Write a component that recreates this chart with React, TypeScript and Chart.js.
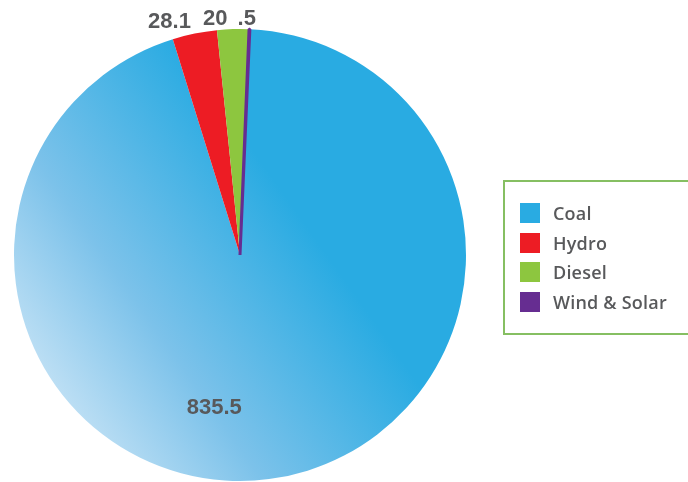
import React, { useEffect, useRef } from "react";
import { Chart, registerables } from "chart.js";

Chart.register(...registerables);

const categories = ["Coal", "Hydro", "Diesel", "Wind & Solar"];
const values = [835.5, 28.1, 20, 0.5];
const valueLabels = ["835.5", "28.1", "20", ".5"];
const colors = ["#29abe2", "#ed1c24", "#8dc63f", "#662d91"];

const labelPlugin = {
  id: "sliceLabels",
  afterDatasetsDraw(chart: any) {
    const meta = chart.getDatasetMeta(0);
    const c = chart.ctx;
    c.save();
    c.font = "bold 22px 'Liberation Sans', Arial, sans-serif";
    c.fillStyle = "#58595b";
    c.textAlign = "center";
    c.textBaseline = "middle";
    meta.data.forEach((arc: any, i: number) => {
      const { x, y, startAngle, endAngle, outerRadius } = arc.getProps(
        ["x", "y", "startAngle", "endAngle", "outerRadius"],
        true
      );
      let lx: number, ly: number;
      if (i === 0) {
        const a = startAngle + (endAngle - startAngle) * 0.55;
        const r = outerRadius * 0.68;
        lx = x + r * Math.cos(a);
        ly = y + r * Math.sin(a) + 1;
      } else {
        const r = outerRadius + 18;
        lx = x + r * Math.cos(startAngle) - (i === 3 ? 3 : i === 1 ? -2 : 0);
        ly = Math.max(y + r * Math.sin(startAngle), 19);
      }
      c.fillText(valueLabels[i], lx, ly);
    });
    c.restore();
  },
};

export default function App() {
  const ref = useRef<HTMLCanvasElement>(null);
  useEffect(() => {
    const canvas = ref.current!;
    const chart = new Chart(canvas, {
      type: "pie",
      data: {
        labels: categories,
        datasets: [
          {
            data: values,
            backgroundColor: (ctx: any) => {
              const i = ctx.dataIndex;
              if (i !== 0) return colors[i];
              const ch = ctx.chart;
              const area = ch.chartArea;
              if (!area) return colors[0];
              const cx = (area.left + area.right) / 2;
              const cy = (area.top + area.bottom) / 2;
              const r = 226;
              const g = ch.ctx.createLinearGradient(
                cx - r * 0.85,
                cy + r * 0.8,
                cx + r * 0.35,
                cy - r * 0.05
              );
              g.addColorStop(0, "#cfe7f7");
              g.addColorStop(0.45, "#7cc2ea");
              g.addColorStop(1, "#29abe2");
              return g;
            },
            borderWidth: [0, 0, 0, 3],
            borderColor: colors,
          } as any,
        ],
      },
      options: {
        responsive: false,
        animation: false,
        rotation: 2.5,
        radius: 226,
        layout: { padding: { left: 14, right: 222, top: 29, bottom: 1 } },
        plugins: {
          legend: { display: false },
          tooltip: { enabled: false },
        },
      } as any,
      plugins: [labelPlugin],
    });
    return () => chart.destroy();
  }, []);

  return (
    <div
      style={{
        position: "absolute",
        left: 0,
        top: 0,
        width: 688,
        height: 482,
        overflow: "hidden",
        background: "#fff",
      }}
    >
      <canvas ref={ref} width={688} height={482} style={{ display: "block" }} />
      <div
        style={{
          position: "absolute",
          left: 503,
          top: 180,
          width: 200,
          height: 155,
          border: "2px solid #86bf62",
          boxSizing: "border-box",
        }}
      >
        {categories.map((c, i) => (
          <div
            key={c}
            style={{
              position: "absolute",
              left: 15,
              top: 21 + i * 29.6,
              display: "flex",
              alignItems: "center",
              height: 20,
            }}
          >
            <div style={{ width: 20, height: 20, background: colors[i] }} />
            <span
              style={{
                marginLeft: 13,
                fontFamily: "'Open Sans', sans-serif",
                fontWeight: 600,
                fontSize: 18,
                letterSpacing: 0.2,
                color: "#58595b",
                whiteSpace: "nowrap",
              }}
            >
              {c}
            </span>
          </div>
        ))}
      </div>
    </div>
  );
}
